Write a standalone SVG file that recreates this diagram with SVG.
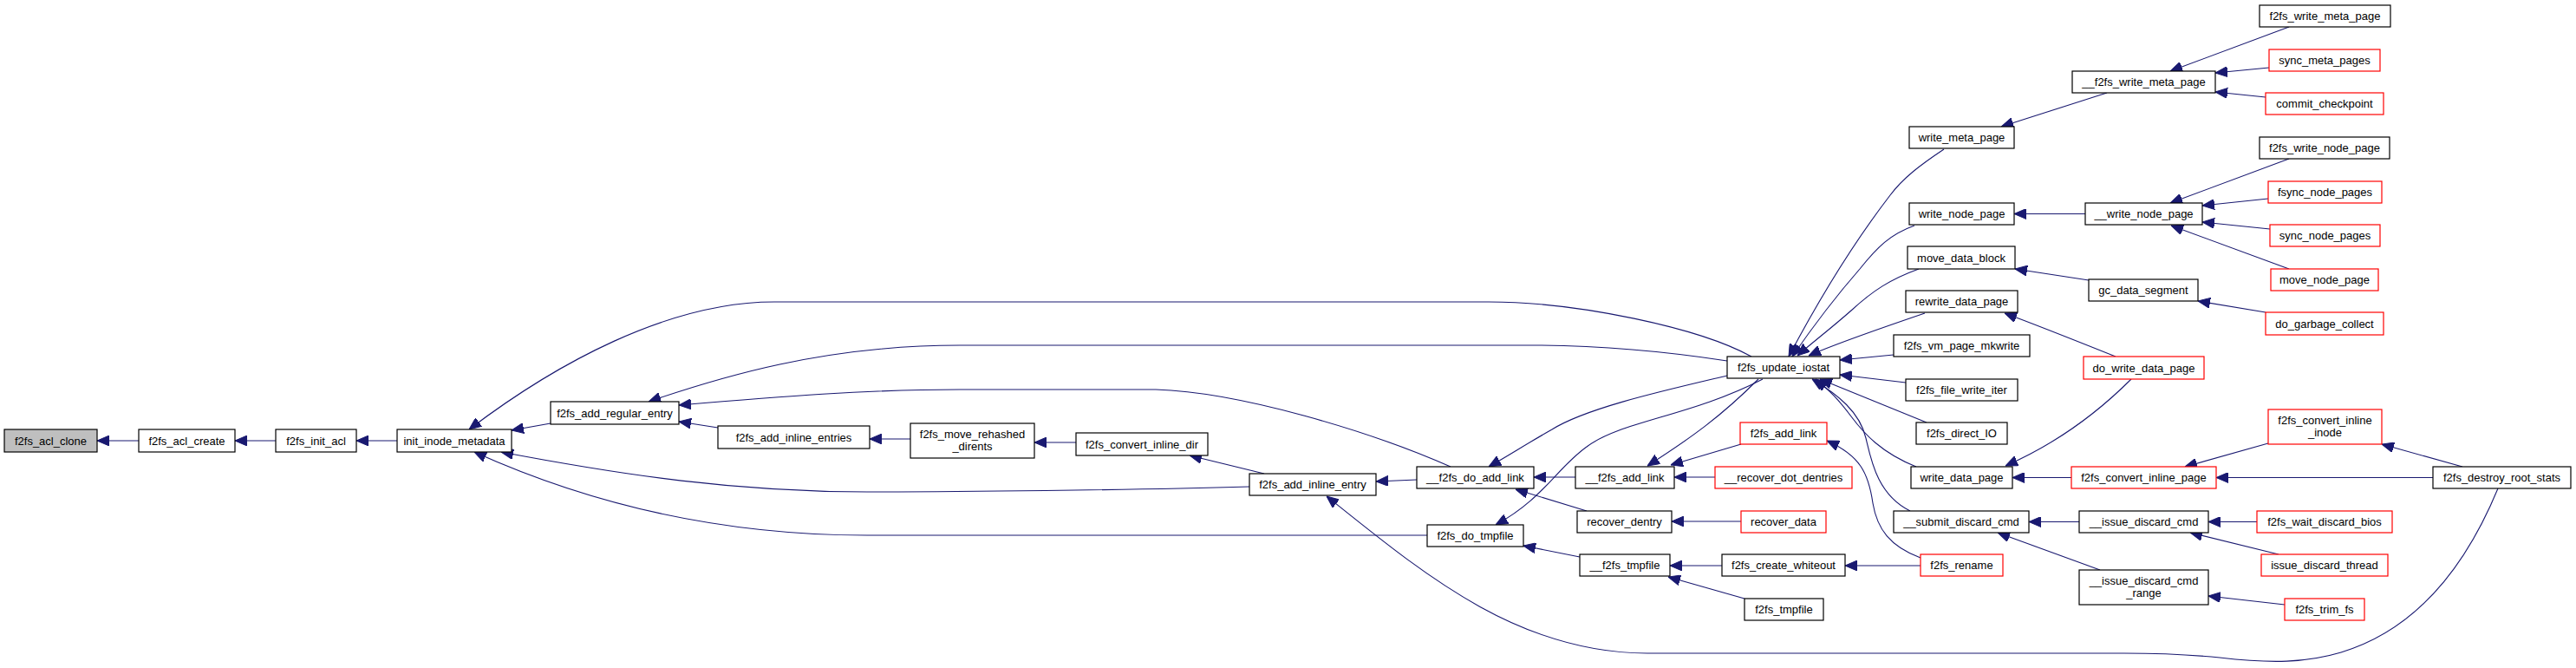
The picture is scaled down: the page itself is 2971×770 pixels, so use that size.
<svg xmlns="http://www.w3.org/2000/svg" width="2971" height="770" viewBox="0 0 2971 770">
<style>
.n rect{fill:#ffffff;stroke:#000000;stroke-width:1.2}
.n.red rect{stroke:#ff0000}
.n.root rect{fill:#bfbfbf}
.n text{font-family:"Liberation Sans",Arial,Helvetica,sans-serif;font-size:13px;text-anchor:middle;fill:#000000}
#edges path{fill:none;stroke:#191970;stroke-width:1.1;marker-end:url(#ah)}
</style>
<defs>
<marker id="ah" markerUnits="userSpaceOnUse" markerWidth="14" markerHeight="12" viewBox="0 0 14 12" refX="14" refY="6" orient="auto">
<path d="M0,0 L14,6 L0,12 z" fill="#191970" stroke="#191970" stroke-width="1"/>
</marker>
</defs>
<rect x="0" y="0" width="2971" height="770" fill="#ffffff"/>
<g id="edges">
<path d="M160,508 L112,508"/>
<path d="M318,508 L271,508"/>
<path d="M458,508 L411,508"/>
<path d="M2020,411 C1960,378 1820,348 1717,348 L893,348 C770,348 640,420 541,495"/>
<path d="M635,488 L590,496"/>
<path d="M1441,561 C1300,565 1100,567 1000,567 C850,567 720,548 578,521"/>
<path d="M1646,617 L1000,617 C850,617 700,590 547,521"/>
<path d="M1992,416 C1900,402 1820,398 1767,398 L1107,398 C950,398 830,435 748,463"/>
<path d="M1673,538 C1580,497 1430,452 1333,449 L1107,449 C1000,449 900,457 783,467"/>
<path d="M828,493 L783,486"/>
<path d="M1050,506 L1003,506"/>
<path d="M1241,510 L1193,510"/>
<path d="M1458,546 L1372,525"/>
<path d="M1634,553 L1587,555"/>
<path d="M2881,563 C2845,650 2790,725 2700,752 C2660,764 2620,765 2560,758 C2520,754 2480,753 2450,753 L1900,753 C1750,753 1640,660 1530,572"/>
<path d="M1992,433 C1920,450 1830,470 1790,495 C1760,512 1740,525 1717,538"/>
<path d="M1817,550 L1769,550"/>
<path d="M1830,589 L1748,564"/>
<path d="M2033,437 C1950,480 1870,485 1830,515 C1795,540 1780,575 1725,605"/>
<path d="M1822,642 L1757,629"/>
<path d="M2028,437 C1985,480 1950,505 1900,537"/>
<path d="M2008,512 L1927,536"/>
<path d="M1978,550 L1931,550"/>
<path d="M2008,601 L1928,601"/>
<path d="M1986,652 L1926,652"/>
<path d="M2012,690 L1924,665"/>
<path d="M2215,652 L2128,652"/>
<path d="M2215,643 C2180,630 2165,610 2160,580 C2155,545 2145,525 2107,508"/>
<path d="M2242,172 C2215,190 2195,205 2180,225 C2130,290 2090,360 2063,411"/>
<path d="M2208,260 C2180,270 2165,285 2145,310 C2110,350 2085,385 2067,411"/>
<path d="M2213,310 C2180,322 2160,335 2135,358 C2110,380 2090,395 2073,410"/>
<path d="M2220,361 C2170,378 2120,395 2086,410"/>
<path d="M2184,409 L2122,415"/>
<path d="M2198,441 L2122,432"/>
<path d="M2222,487 L2099,437"/>
<path d="M2210,538 C2170,522 2150,500 2135,480 C2120,460 2110,450 2094,437"/>
<path d="M2203,589 C2165,570 2158,530 2152,505 C2145,475 2120,455 2090,437"/>
<path d="M2430,107 L2308,146"/>
<path d="M2405,246.5 L2323,246.5"/>
<path d="M2409,323 L2324,310"/>
<path d="M2440,411 C2400,395 2350,375 2312,361"/>
<path d="M2458,437 C2420,475 2370,512 2313,537"/>
<path d="M2389,550.5 L2321,550.5"/>
<path d="M2398,601.5 L2340,601.5"/>
<path d="M2422,657 L2304,614"/>
<path d="M2640,31 L2503,82"/>
<path d="M2617,78 L2555,84"/>
<path d="M2613,112 L2555,106"/>
<path d="M2640,183 L2503,234"/>
<path d="M2616,229 L2540,237"/>
<path d="M2618,264 L2540,256"/>
<path d="M2640,310 L2504,260"/>
<path d="M2613,360 L2535,347"/>
<path d="M2616,511 L2520,538"/>
<path d="M2840,538 L2747,512"/>
<path d="M2806,550.5 L2556,550.5"/>
<path d="M2603,601.5 L2547,601.5"/>
<path d="M2628,639 L2526,614"/>
<path d="M2635,697 L2547,687"/>
</g>
<g id="n_f2fs_acl_clone" class="n root"><rect x="5" y="495" width="107" height="26"/><text x="58.5" y="512.5">f2fs_acl_clone</text></g>
<g id="n_f2fs_acl_create" class="n"><rect x="160" y="495" width="111" height="26"/><text x="215.5" y="512.5">f2fs_acl_create</text></g>
<g id="n_f2fs_init_acl" class="n"><rect x="318" y="495" width="93" height="26"/><text x="364.5" y="512.5">f2fs_init_acl</text></g>
<g id="n_init_inode_metadata" class="n"><rect x="458" y="495" width="132" height="26"/><text x="524" y="512.5">init_inode_metadata</text></g>
<g id="n_f2fs_add_regular_entry" class="n"><rect x="635" y="463" width="148" height="26"/><text x="709" y="480.5">f2fs_add_regular_entry</text></g>
<g id="n_f2fs_add_inline_entries" class="n"><rect x="828" y="491" width="175" height="26"/><text x="915.5" y="508.5">f2fs_add_inline_entries</text></g>
<g id="n_f2fs_move_rehashed_dirents" class="n"><rect x="1050" y="488" width="143" height="40"/><text x="1121.5" y="504.5">f2fs_move_rehashed</text><text x="1121.5" y="519">_dirents</text></g>
<g id="n_f2fs_convert_inline_dir" class="n"><rect x="1241" y="499" width="152" height="26"/><text x="1317" y="516.5">f2fs_convert_inline_dir</text></g>
<g id="n_f2fs_add_inline_entry" class="n"><rect x="1441" y="546" width="146" height="25"/><text x="1514" y="563">f2fs_add_inline_entry</text></g>
<g id="n___f2fs_do_add_link" class="n"><rect x="1634" y="538" width="135" height="25"/><text x="1701.5" y="555">__f2fs_do_add_link</text></g>
<g id="n_f2fs_do_tmpfile" class="n"><rect x="1646" y="605" width="111" height="25"/><text x="1701.5" y="622">f2fs_do_tmpfile</text></g>
<g id="n___f2fs_add_link" class="n"><rect x="1817" y="538" width="114" height="25"/><text x="1874" y="555">__f2fs_add_link</text></g>
<g id="n_recover_dentry" class="n"><rect x="1819" y="589" width="109" height="25"/><text x="1873.5" y="606">recover_dentry</text></g>
<g id="n___f2fs_tmpfile" class="n"><rect x="1822" y="639" width="104" height="25"/><text x="1874" y="656">__f2fs_tmpfile</text></g>
<g id="n_f2fs_update_iostat" class="n"><rect x="1992" y="411" width="130" height="25"/><text x="2057" y="428">f2fs_update_iostat</text></g>
<g id="n_f2fs_add_link" class="n red"><rect x="2007" y="487" width="100" height="25"/><text x="2057" y="504">f2fs_add_link</text></g>
<g id="n___recover_dot_dentries" class="n red"><rect x="1978" y="538" width="158" height="25"/><text x="2057" y="555">__recover_dot_dentries</text></g>
<g id="n_recover_data" class="n red"><rect x="2008" y="589" width="98" height="25"/><text x="2057" y="606">recover_data</text></g>
<g id="n_f2fs_create_whiteout" class="n"><rect x="1986" y="639" width="142" height="25"/><text x="2057" y="656">f2fs_create_whiteout</text></g>
<g id="n_f2fs_tmpfile" class="n"><rect x="2012" y="690" width="91" height="25"/><text x="2057.5" y="707">f2fs_tmpfile</text></g>
<g id="n_write_meta_page" class="n"><rect x="2202" y="146" width="121" height="25"/><text x="2262.5" y="163">write_meta_page</text></g>
<g id="n_write_node_page" class="n"><rect x="2202" y="234" width="121" height="25"/><text x="2262.5" y="251">write_node_page</text></g>
<g id="n_move_data_block" class="n"><rect x="2200" y="284" width="124" height="26"/><text x="2262" y="301.5">move_data_block</text></g>
<g id="n_rewrite_data_page" class="n"><rect x="2198" y="335" width="129" height="25"/><text x="2262.5" y="352">rewrite_data_page</text></g>
<g id="n_f2fs_vm_page_mkwrite" class="n"><rect x="2184" y="386" width="157" height="25"/><text x="2262.5" y="403">f2fs_vm_page_mkwrite</text></g>
<g id="n_f2fs_file_write_iter" class="n"><rect x="2198" y="437" width="129" height="25"/><text x="2262.5" y="454">f2fs_file_write_iter</text></g>
<g id="n_f2fs_direct_IO" class="n"><rect x="2210" y="487" width="105" height="25"/><text x="2262.5" y="504">f2fs_direct_IO</text></g>
<g id="n_write_data_page" class="n"><rect x="2204" y="538" width="117" height="25"/><text x="2262.5" y="555">write_data_page</text></g>
<g id="n___submit_discard_cmd" class="n"><rect x="2184" y="589" width="156" height="25"/><text x="2262" y="606">__submit_discard_cmd</text></g>
<g id="n_f2fs_rename" class="n red"><rect x="2215" y="639" width="95" height="25"/><text x="2262.5" y="656">f2fs_rename</text></g>
<g id="n___f2fs_write_meta_page" class="n"><rect x="2390" y="82" width="165" height="25"/><text x="2472.5" y="99">__f2fs_write_meta_page</text></g>
<g id="n___write_node_page" class="n"><rect x="2405" y="234" width="135" height="25"/><text x="2472.5" y="251">__write_node_page</text></g>
<g id="n_gc_data_segment" class="n"><rect x="2409" y="322" width="126" height="25"/><text x="2472" y="339">gc_data_segment</text></g>
<g id="n_do_write_data_page" class="n red"><rect x="2403" y="411" width="139" height="26"/><text x="2472.5" y="428.5">do_write_data_page</text></g>
<g id="n_f2fs_convert_inline_page" class="n red"><rect x="2389" y="538" width="167" height="25"/><text x="2472.5" y="555">f2fs_convert_inline_page</text></g>
<g id="n___issue_discard_cmd" class="n"><rect x="2398" y="589" width="149" height="25"/><text x="2472.5" y="606">__issue_discard_cmd</text></g>
<g id="n___issue_discard_cmd_range" class="n"><rect x="2398" y="657" width="149" height="40"/><text x="2472.5" y="673.5">__issue_discard_cmd</text><text x="2472.5" y="688">_range</text></g>
<g id="n_f2fs_write_meta_page" class="n"><rect x="2606" y="6" width="151" height="25"/><text x="2681.5" y="23">f2fs_write_meta_page</text></g>
<g id="n_sync_meta_pages" class="n red"><rect x="2617" y="57" width="128" height="25"/><text x="2681" y="74">sync_meta_pages</text></g>
<g id="n_commit_checkpoint" class="n red"><rect x="2613" y="107" width="136" height="25"/><text x="2681" y="124">commit_checkpoint</text></g>
<g id="n_f2fs_write_node_page" class="n"><rect x="2606" y="158" width="150" height="25"/><text x="2681" y="175">f2fs_write_node_page</text></g>
<g id="n_fsync_node_pages" class="n red"><rect x="2616" y="209" width="131" height="25"/><text x="2681.5" y="226">fsync_node_pages</text></g>
<g id="n_sync_node_pages" class="n red"><rect x="2618" y="259" width="127" height="25"/><text x="2681.5" y="276">sync_node_pages</text></g>
<g id="n_move_node_page" class="n red"><rect x="2619" y="310" width="124" height="25"/><text x="2681" y="327">move_node_page</text></g>
<g id="n_do_garbage_collect" class="n red"><rect x="2613" y="360" width="136" height="26"/><text x="2681" y="377.5">do_garbage_collect</text></g>
<g id="n_f2fs_convert_inline_inode" class="n red"><rect x="2616" y="472" width="131" height="40"/><text x="2681.5" y="488.5">f2fs_convert_inline</text><text x="2681.5" y="503">_inode</text></g>
<g id="n_f2fs_destroy_root_stats" class="n"><rect x="2806" y="538" width="159" height="25"/><text x="2885.5" y="555">f2fs_destroy_root_stats</text></g>
<g id="n_f2fs_wait_discard_bios" class="n red"><rect x="2603" y="589" width="156" height="25"/><text x="2681" y="606">f2fs_wait_discard_bios</text></g>
<g id="n_issue_discard_thread" class="n red"><rect x="2608" y="639" width="146" height="25"/><text x="2681" y="656">issue_discard_thread</text></g>
<g id="n_f2fs_trim_fs" class="n red"><rect x="2635" y="690" width="92" height="25"/><text x="2681" y="707">f2fs_trim_fs</text></g>
</svg>
